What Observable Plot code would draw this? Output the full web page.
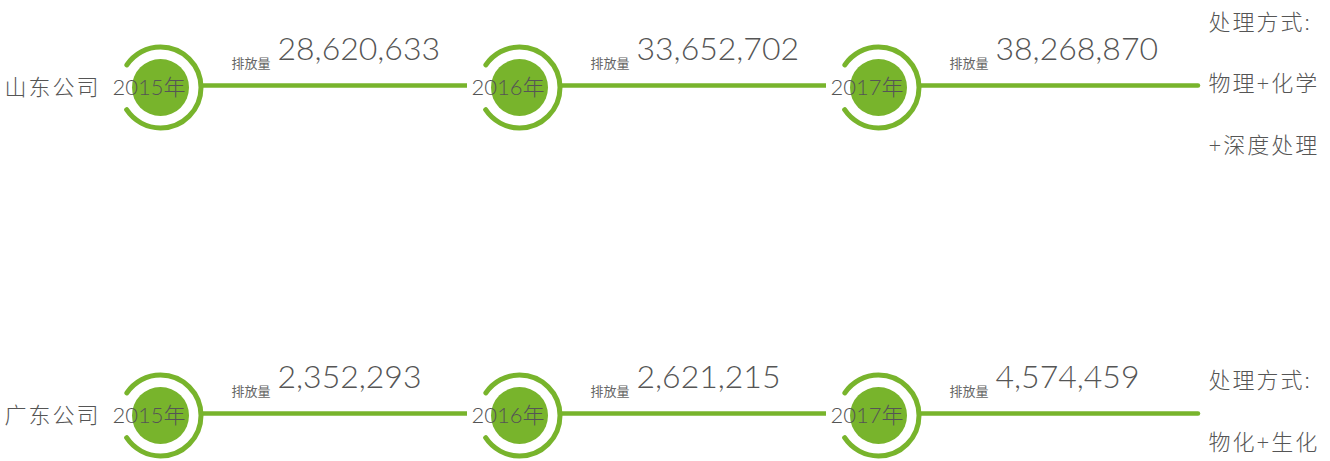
<!DOCTYPE html>
<html>
<head>
<meta charset="utf-8">
<script src="https://cdn.jsdelivr.net/npm/d3@7"></script>
<script src="https://cdn.jsdelivr.net/npm/@observablehq/plot@0.6"></script>
<style>
  html, body { margin: 0; padding: 0; background: #fff; }
  #chart svg { display: block; font-family: Lato, "Noto Sans CJK SC", sans-serif; }
  text[aria-label="company"], text[aria-label="method"] { letter-spacing: 2px; }
</style>
</head>
<body>
<div id="chart"></div>
<script>
// ---- data ----
const companies = ["山东公司", "广东公司"];
const years = ["2015年", "2016年", "2017年"];
const shandongValues = [28620633, 33652702, 38268870];
const guangdongValues = [2352293, 2621215, 4574459];
const methodHeader = "处理方式:";
const shandongMethod = ["物理+化学", "+深度处理"];
const guangdongMethod = ["物化+生化"];
const valueLabel = "排放量";
const endKey = "处理方式";

// ---- tables built from the arrays ----
const seriesValues = [shandongValues, guangdongValues];
const methods = [shandongMethod, guangdongMethod];
const points = companies.flatMap((c, ci) =>
  years.map((y, yi) => ({company: c, year: y, value: seriesValues[ci][yi]})));
const segments = companies.flatMap(c =>
  years.map((y, yi) => ({company: c, from: y, to: years[yi + 1] ?? endKey, last: yi === years.length - 1})));
const methodRows = companies.map((c, ci) => ({company: c, text: [methodHeader, ...methods[ci]].join("\n")}));
const companyRows = companies.map(c => ({company: c, year: years[0]}));

const green = "#78b42c";
const ringR = 40.5;
const C = 2 * Math.PI * ringR;
const gap = ringR * Math.PI / 3 + 5;

const chart = Plot.plot({
  width: 1330,
  height: 461,
  margin: 0,
  x: {type: "point", domain: [...years, endKey], range: [160, 1237], padding: 0, axis: null},
  y: {type: "point", domain: companies, range: [87, 415], padding: 0, axis: null},
  marks: [
    Plot.ruleY(segments.filter(d => !d.last), {
      x1: "from", x2: "to", y: "company", dy: -2,
      insetLeft: 43, insetRight: 52,
      stroke: green, strokeWidth: 4.5
    }),
    Plot.ruleY(segments.filter(d => d.last), {
      x1: "from", x2: "to", y: "company", dy: -2,
      insetLeft: 43, insetRight: 39,
      stroke: green, strokeWidth: 4.5, strokeLinecap: "round"
    }),
    Plot.dot(points, {
      x: "year", y: "company", r: ringR,
      fill: "none", stroke: green, strokeWidth: 5, strokeLinecap: "round",
      strokeDasharray: `${C / 2 - gap / 2},${gap},${C}`
    }),
    Plot.dot(points, {x: "year", y: "company", r: 28.5, fill: green, stroke: "none"}),
    Plot.text(points, {
      x: "year", y: "company", text: "year", textAnchor: "start", dx: -48,
      fontSize: 22, fontWeight: 300, fill: "#555", ariaLabel: () => "year"
    }),
    Plot.text(companyRows, {
      x: "year", y: "company", text: "company", textAnchor: "end", dx: -60,
      fontSize: 22, fontWeight: 300, fill: "#555", ariaLabel: () => "company"
    }),
    Plot.text(points, {
      x: "year", y: "company", text: () => valueLabel, textAnchor: "start",
      lineAnchor: "bottom", dx: 71, dy: -20, fontSize: 13, fill: "#666", ariaLabel: () => "label"
    }),
    Plot.text(points, {
      x: "year", y: "company", text: d => d3.format(",")(d.value), textAnchor: "start",
      lineAnchor: "bottom", dx: 117, dy: -28, fontSize: 32, fontWeight: 300, fill: "#555", ariaLabel: () => "value"
    }),
    Plot.text(methodRows, {
      x: () => endKey, y: "company", text: "text", textAnchor: "start",
      lineAnchor: "middle", lineHeight: 2.8, dx: -29, dy: -16,
      fontSize: 22, fontWeight: 300, fill: "#555", ariaLabel: () => "method"
    })
  ]
});
document.getElementById("chart").appendChild(chart);
</script>
</body>
</html>
